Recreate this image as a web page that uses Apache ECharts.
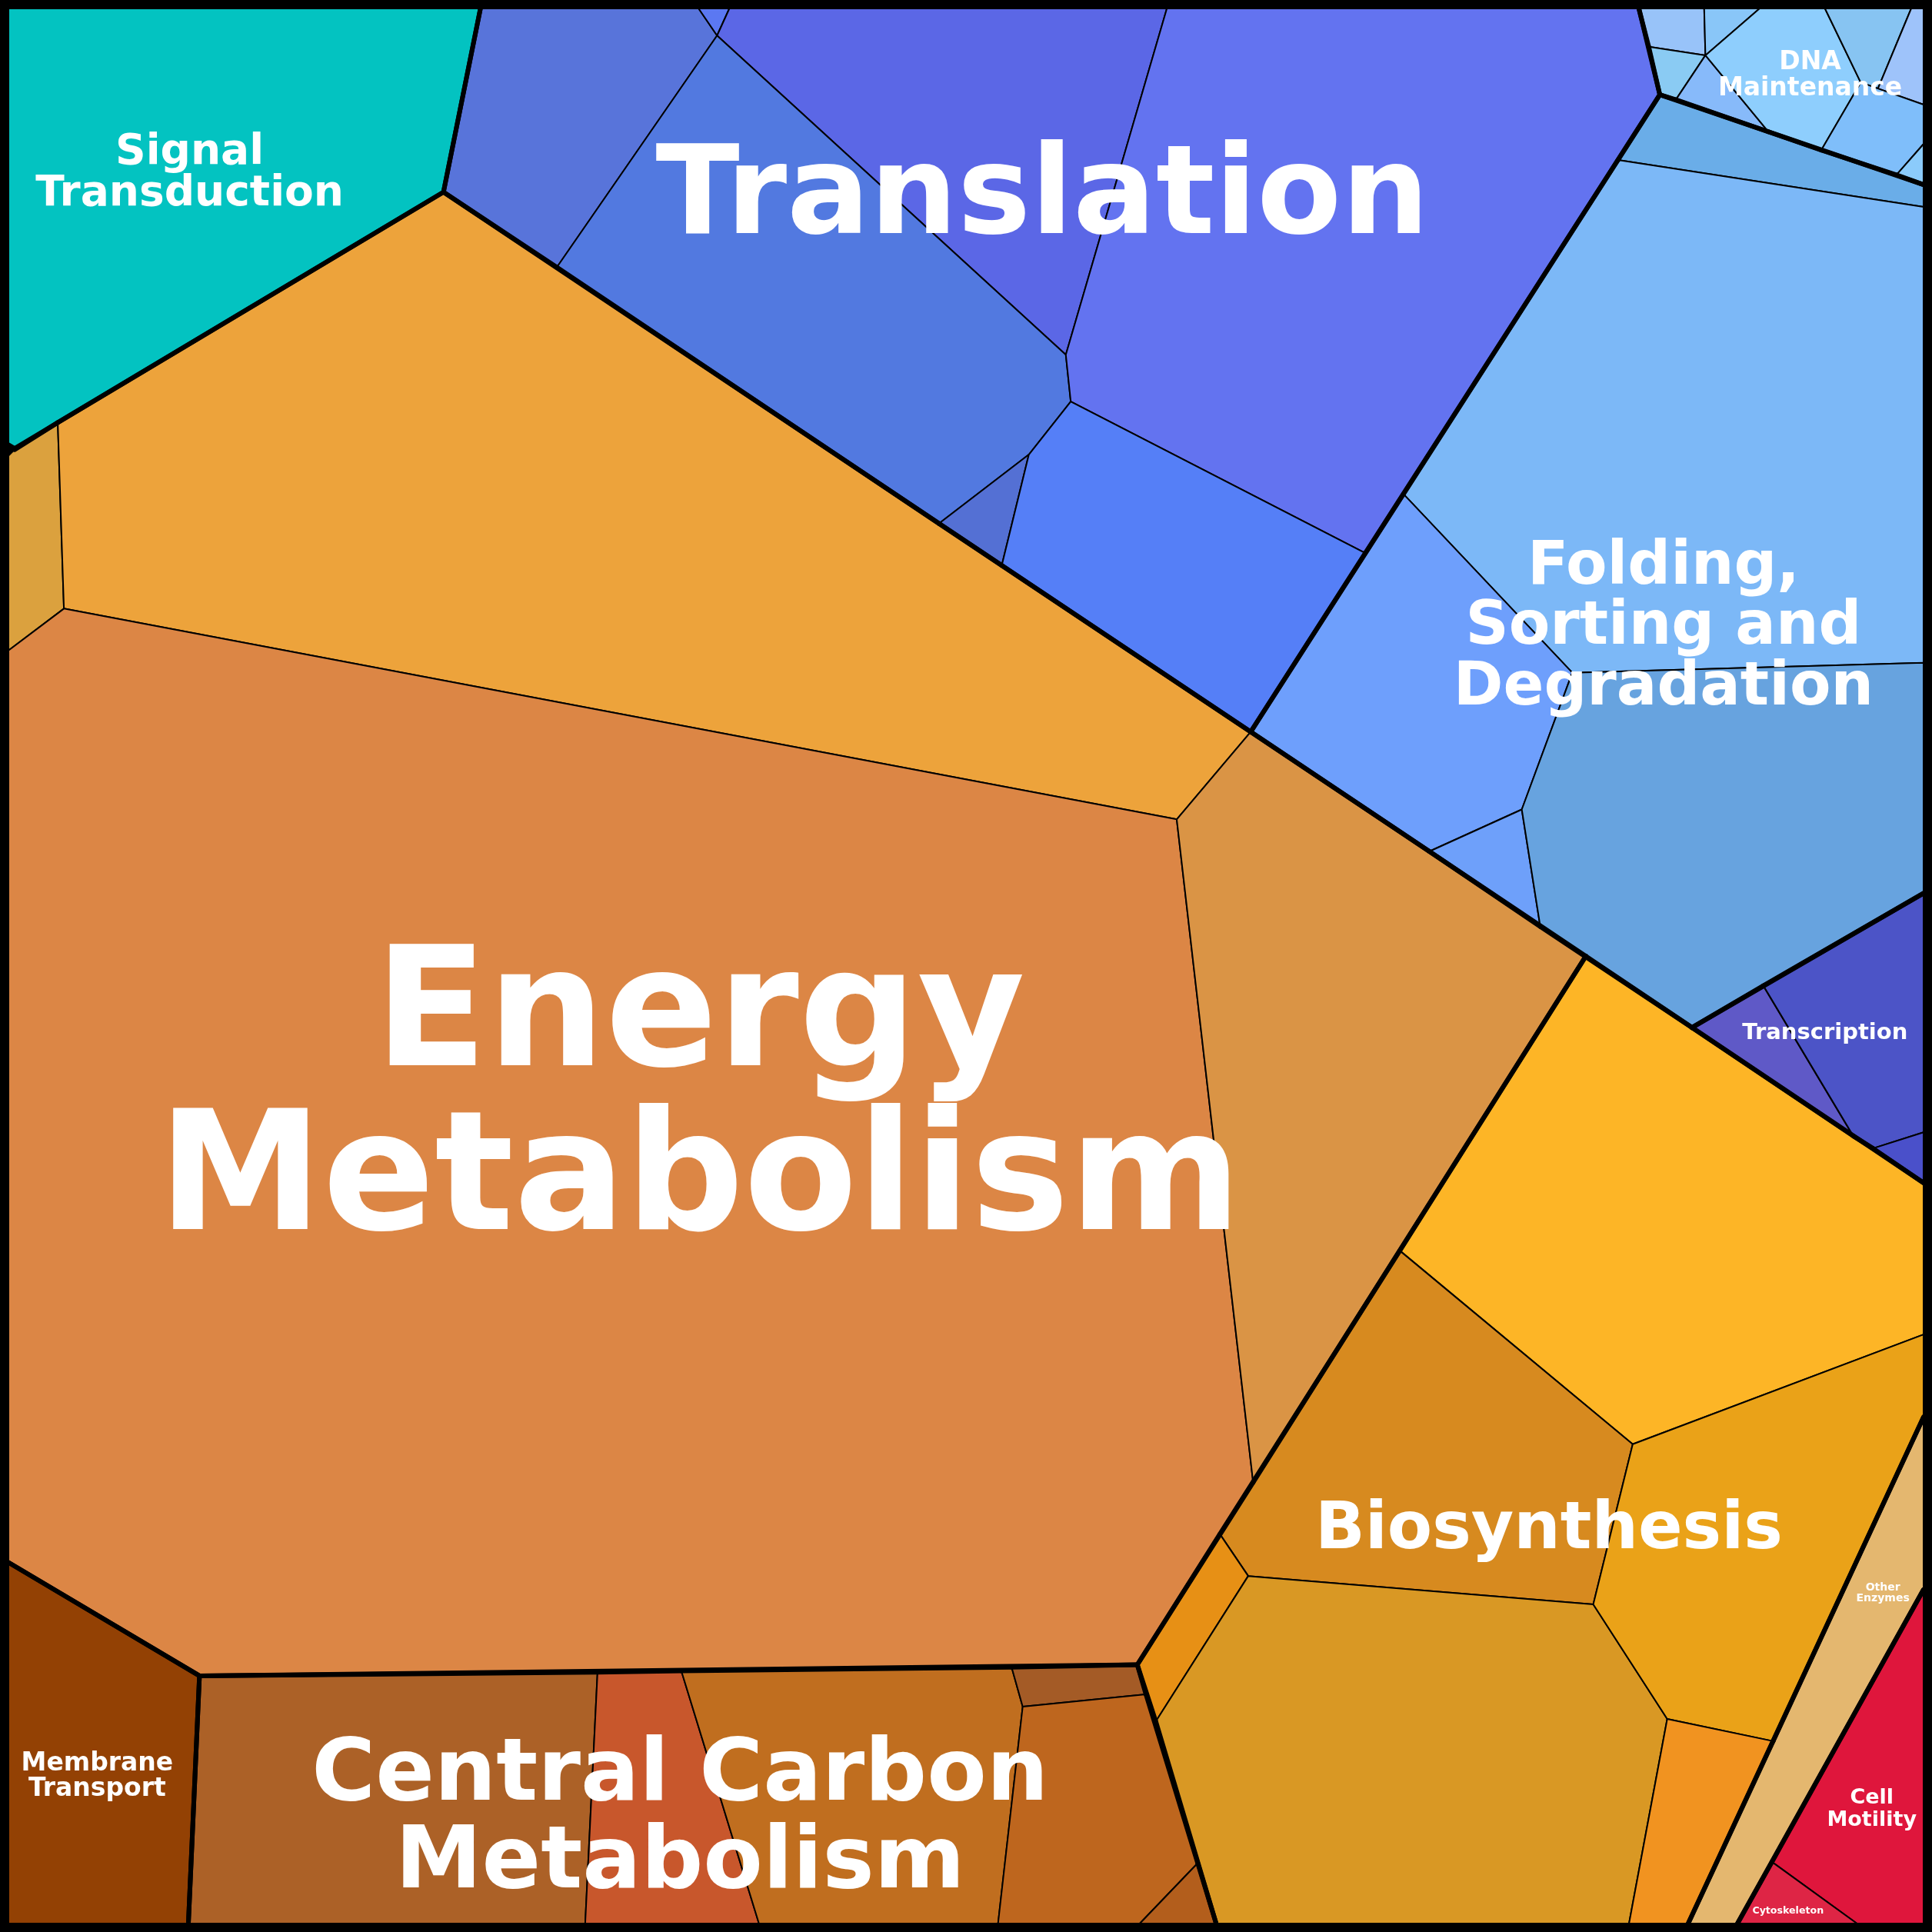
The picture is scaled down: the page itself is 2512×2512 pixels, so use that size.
<!DOCTYPE html>
<html>
<head>
<meta charset="utf-8">
<script src="https://cdn.jsdelivr.net/npm/echarts@6/dist/echarts.min.js"></script>
<style>
html,body{margin:0;padding:0;background:#000;}
#chart{width:2512px;height:2512px;background:#000;}
</style>
</head>
<body>
<div id="chart"></div>
<script>
// ---- DATA ----
const groupNames = ['Signal Transduction','Translation','Folding, Sorting and Degradation','DNA Maintenance','Transcription','Energy Metabolism','Biosynthesis','Central Carbon Metabolism','Membrane Transport','Other Enzymes','Cell Motility'];

// group index of each cell
const cellGroup = [
  0,
  1,1,1,1,1,1,1,
  2,2,2,2,2,
  3,3,3,3,3,3,3,3,3,
  4,4,4,
  5,5,5,5,
  6,6,6,6,6,6,
  7,7,7,7,7,7,
  8,
  9,
  10,10
];

// cell polygons (layout units, frame 7..1561)
const cellVertices = [
  [[7,7],[390,7],[360,156],[12,364],[7,361]],
  // Translation
  [[390,7],[567,7],[582,29],[452,217],[360,156]],
  [[567,7],[592,7],[582,29]],
  [[592,7],[947,7],[865,288],[582,29]],
  [[582,29],[865,288],[869,326],[835,369],[762,425],[452,217]],
  [[947,7],[1330,7],[1347,77],[1108,449],[869,326],[865,288]],
  [[762,425],[835,369],[813,459]],
  [[835,369],[869,326],[1108,449],[1015,594],[813,459]],
  // Folding, Sorting and Degradation
  [[1347,77],[1561,150],[1561,168],[1313,130]],
  [[1313,130],[1561,168],[1561,538],[1276,546],[1139,401]],
  [[1139,401],[1276,546],[1235,657],[1160,691],[1015,594]],
  [[1160,691],[1235,657],[1250,752]],
  [[1276,546],[1561,538],[1561,725],[1373,834],[1250,752],[1235,657]],
  // DNA Maintenance
  [[1330,7],[1383,7],[1384,45],[1338,38]],
  [[1383,7],[1428,7],[1384,45]],
  [[1338,38],[1384,45],[1360,81],[1347,77]],
  [[1384,45],[1435,107],[1360,81]],
  [[1428,7],[1481,7],[1510,67],[1478,122],[1435,107],[1384,45]],
  [[1481,7],[1551,7],[1524,72],[1510,67]],
  [[1551,7],[1561,7],[1561,85],[1524,72]],
  [[1510,67],[1524,72],[1561,85],[1561,117],[1539,142],[1478,122]],
  [[1539,142],[1561,117],[1561,150]],
  // Transcription
  [[1373,834],[1431,800],[1504,922]],
  [[1431,800],[1561,725],[1561,919],[1520,932],[1504,922]],
  [[1520,932],[1561,919],[1561,960]],
  // Energy Metabolism
  [[7,370],[12,365],[47,343],[52,494],[7,528]],
  [[47,343],[360,156],[1015,594],[955,665],[52,494]],
  [[7,528],[52,494],[955,665],[1017,1203],[923,1351],[162,1360],[7,1268]],
  [[955,665],[1015,594],[1287,776],[1017,1203]],
  // Biosynthesis
  [[1287,776],[1561,960],[1561,1083],[1325,1172],[1136,1015]],
  [[1136,1015],[1325,1172],[1293,1302],[1013,1279],[990,1245]],
  [[990,1245],[1013,1279],[938,1397],[923,1351]],
  [[1013,1279],[1293,1302],[1353,1395],[1322,1561],[987,1561],[938,1397]],
  [[1325,1172],[1561,1083],[1561,1150],[1439,1413],[1353,1395],[1293,1302]],
  [[1353,1395],[1439,1413],[1370,1561],[1322,1561]],
  // Central Carbon Metabolism
  [[162,1360],[485,1357],[475,1561],[153,1561]],
  [[485,1357],[553,1356],[616,1561],[475,1561]],
  [[553,1356],[821,1353],[830,1385],[810,1561],[616,1561]],
  [[821,1353],[923,1351],[930,1375],[830,1385]],
  [[830,1385],[930,1375],[972,1512],[925,1561],[810,1561]],
  [[972,1512],[987,1561],[925,1561]],
  // Membrane Transport
  [[7,1268],[162,1360],[153,1561],[7,1561]],
  // Other Enzymes
  [[1561,1150],[1561,1290],[1410,1561],[1370,1561]],
  // Cell Motility / Cytoskeleton
  [[1561,1290],[1561,1561],[1507,1561],[1438,1511]],
  [[1438,1511],[1507,1561],[1410,1561]]
];

// labels
const labelTexts = ['Signal\nTransduction','Translation','Folding,\nSorting and\nDegradation','DNA\nMaintenance','Transcription','Energy\nMetabolism','Biosynthesis','Central Carbon\nMetabolism','Membrane\nTransport','Other\nEnzymes','Cell\nMotility','Cytoskeleton'];
const labelX = [154, 846, 1350, 1469, 1481, 568, 1257, 552, 79, 1528, 1519, 1451];
const labelY = [138, 155, 506, 59.5, 837, 885, 1238, 1472, 1440, 1292, 1467, 1550];

// ---- STYLES ----
const cellColors = [
  '#03c3c1',
  '#5874da','#5b78f2','#5b67e6','#5279e0','#6373f0','#5470d4','#557ff7',
  '#6aade8','#7cb8f7','#6e9ffc','#6ea0fa','#67a3df',
  '#98c3f9','#89c6f8','#8acbf3','#87bafa','#8ecefd','#87c4f2','#9ec3fa','#7fbefa','#8bcbfb',
  '#5f59c7','#4c54c7','#4a50ca',
  '#dba13e','#eda33b','#dc8645','#da9445',
  '#fdb526','#d78a1f','#e79015','#d99824','#eaa218','#f19320',
  '#ac6127','#c8572c','#c06e1f','#a45b26','#be661e','#b35e1c',
  '#934104',
  '#e4b76f',
  '#df163c','#de2545'
];
const labelFontSize = [55, 160, 78, 33, 29, 215, 85, 113, 33, 14, 27, 12.6];
const labelLineHeight = [54, 157, 78.5, 34, 29, 213, 85, 114, 33, 14.5, 29, 13];

const FRAME_MIN = 7, FRAME_MAX = 1561;

// ---- geometry helpers: boundaries between different groups are drawn thick ----
function segDist(p, a, b) {
  const dx = b[0]-a[0], dy = b[1]-a[1];
  const L = dx*dx + dy*dy;
  let t = L ? ((p[0]-a[0])*dx + (p[1]-a[1])*dy) / L : 0;
  t = Math.max(0, Math.min(1, t));
  const x = a[0] + t*dx, y = a[1] + t*dy;
  return Math.hypot(p[0]-x, p[1]-y);
}
function onFrame(a, b) {
  if (a[0] === b[0] && (a[0] <= FRAME_MIN || a[0] >= FRAME_MAX)) return true;
  if (a[1] === b[1] && (a[1] <= FRAME_MIN || a[1] >= FRAME_MAX)) return true;
  return false;
}
const thickSegs = [];
cellVertices.forEach((poly, i) => {
  poly.forEach((a, k) => {
    const b = poly[(k+1) % poly.length];
    if (onFrame(a, b)) return;
    const m = [(a[0]+b[0])/2, (a[1]+b[1])/2];
    let found = false;
    for (let j = 0; j < cellVertices.length && !found; j++) {
      if (cellGroup[j] === cellGroup[i]) continue;
      const q = cellVertices[j];
      for (let e = 0; e < q.length; e++) {
        if (segDist(m, q[e], q[(e+1) % q.length]) < 4) { found = true; break; }
      }
    }
    if (found) thickSegs.push([a, b]);
  });
});

const chart = echarts.init(document.getElementById('chart'), null, {renderer: 'canvas'});
const option = {
  backgroundColor: '#000',
  animation: false,
  grid: {left: 11, right: 11, top: 11, bottom: 11, containLabel: false},
  xAxis: {type: 'value', min: FRAME_MIN, max: FRAME_MAX, show: false},
  yAxis: {type: 'value', min: FRAME_MIN, max: FRAME_MAX, inverse: true, show: false},
  series: [
    {
      type: 'custom',
      silent: true,
      z: 1,
      data: cellVertices.map((v, i) => [v[0][0], v[0][1], i]),
      encode: {x: 0, y: 1},
      renderItem: function (params, api) {
        const idx = api.value(2);
        const pts = cellVertices[idx].map(p => api.coord(p));
        return {
          type: 'polygon',
          shape: {points: pts},
          style: {fill: cellColors[idx], stroke: '#000', lineWidth: 2, lineJoin: 'round'}
        };
      }
    },
    {
      type: 'custom',
      silent: true,
      z: 2,
      data: thickSegs.map((s, i) => [s[0][0], s[0][1], i]),
      encode: {x: 0, y: 1},
      renderItem: function (params, api) {
        const s = thickSegs[api.value(2)];
        const p1 = api.coord(s[0]), p2 = api.coord(s[1]);
        return {
          type: 'line',
          shape: {x1: p1[0], y1: p1[1], x2: p2[0], y2: p2[1]},
          style: {stroke: '#000', lineWidth: 6, lineCap: 'round'}
        };
      }
    },
    {
      type: 'custom',
      silent: true,
      z: 3,
      data: labelTexts.map((t, i) => [labelX[i], labelY[i], i]),
      encode: {x: 0, y: 1},
      renderItem: function (params, api) {
        const i = api.value(2);
        const p = api.coord([labelX[i], labelY[i]]);
        const fs = labelFontSize[i];
        const off = Math.max(1, fs / 60);
        return {
          type: 'text',
          x: p[0], y: p[1] + fs * 0.085,
          style: {
            text: labelTexts[i],
            fill: '#ffffff',
            font: 'bold ' + fs + 'px "DejaVu Sans"',
            lineHeight: labelLineHeight[i],
            align: 'center',
            verticalAlign: 'middle',
            textShadowColor: 'rgba(0,0,0,0.9)',
            textShadowOffsetX: off,
            textShadowOffsetY: off,
            textShadowBlur: 0
          }
        };
      }
    }
  ]
};
chart.setOption(option);
</script>
</body>
</html>
